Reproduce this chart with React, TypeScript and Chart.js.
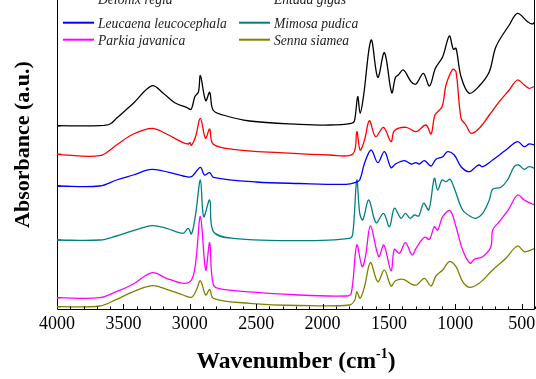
import { useEffect, useRef } from "react";
import { Chart, registerables } from "chart.js";

Chart.register(...registerables);

const seriesNames = [
  "Delonix regia",
  "Entada gigas",
  "Leucaena leucocephala",
  "Mimosa pudica",
  "Parkia javanica",
  "Senna siamea",
];
const seriesColors = ["#000000", "#ff0000", "#0000ff", "#008080", "#ff00ff", "#808000"];

const wnDelonix = [4000, 3677, 3600, 3552, 3425, 3283, 3200, 3113, 3025, 2990, 2962, 2935, 2920, 2880, 2850, 2825, 2750, 2549, 2173, 1947, 1784, 1760, 1735, 1717, 1692, 1634, 1584, 1534, 1479, 1451, 1430, 1391, 1333, 1296, 1241, 1195, 1150, 1095, 1045, 1015, 995, 957, 895, 820, 744, 694, 594, 532, 456, 419, 400];
const absDelonix = [183.3, 183.3, 185, 190.7, 205.7, 223.3, 215.7, 206.3, 201.7, 199.7, 212.3, 217, 233.3, 208.3, 216.7, 199, 194, 188, 184.7, 184, 185.7, 188, 212.3, 195.7, 212.3, 269, 231.7, 256.3, 216.3, 231.7, 234, 239, 227.3, 225, 235.7, 223, 240.7, 252.3, 273, 259.7, 260.7, 232.3, 215.7, 223, 237.3, 262.3, 284, 295.7, 287.3, 285, 287.3];

const wnEntada = [4000, 3677, 3552, 3425, 3283, 3175, 3050, 3012, 3000, 2987, 2955, 2920, 2882, 2850, 2825, 2674, 2323, 1947, 1772, 1742, 1717, 1684, 1647, 1601, 1541, 1484, 1459, 1371, 1296, 1221, 1183, 1153, 1100, 1070, 1020, 995, 957, 920, 882, 820, 744, 669, 594, 532, 481, 444, 400];
const absEntada = [154.7, 153.3, 164, 175, 180.7, 175, 166.3, 165, 166.3, 163.7, 173, 190.7, 170.7, 180, 165, 159.7, 156.3, 154, 155, 177.3, 159, 169, 188.3, 172.3, 181.7, 167.3, 178.3, 181.7, 177.3, 184, 175, 194, 202.3, 224, 239.7, 237.3, 190.7, 184, 175.7, 180.7, 194, 207.3, 219, 229, 224, 220.7, 223];

const wnLeucaena = [4000, 3677, 3552, 3425, 3283, 3050, 2987, 2920, 2890, 2850, 2822, 2500, 2173, 1822, 1757, 1720, 1684, 1634, 1584, 1534, 1484, 1451, 1383, 1333, 1296, 1271, 1233, 1183, 1146, 1095, 1058, 1008, 957, 895, 845, 820, 794, 719, 619, 532, 481, 444, 400];
const absLeucaena = [123, 123, 129, 134, 139.7, 133, 132.3, 141.7, 134, 136.3, 131.7, 127, 125.5, 124.7, 126.3, 129, 145.7, 159, 146.3, 157.3, 141.3, 145, 148.3, 145, 146.3, 145, 148.3, 143, 149.7, 152.3, 157.3, 154, 142.3, 137.3, 142.3, 144, 142.3, 149, 159, 167.3, 162.3, 165, 164];

const wnMimosa = [4000, 3677, 3552, 3425, 3283, 3175, 3050, 3012, 2987, 2955, 2920, 2895, 2850, 2822, 2674, 2173, 1797, 1772, 1742, 1720, 1697, 1652, 1597, 1541, 1496, 1459, 1409, 1376, 1341, 1308, 1276, 1238, 1200, 1158, 1133, 1100, 1070, 1040, 1008, 945, 882, 845, 794, 744, 719, 657, 607, 557, 524, 481, 444, 400];
const absMimosa = [69, 69, 73, 78.3, 83.3, 80.7, 75.7, 80.7, 75, 95.7, 129, 92.3, 109, 77.3, 70.7, 68.3, 70.7, 75.7, 129, 95.7, 89, 109, 86.3, 95.7, 82.3, 100.7, 90.7, 95.7, 90.7, 94, 93, 105.7, 99, 130.7, 119, 129, 127.3, 129.7, 120.7, 99, 92.3, 90.7, 95.7, 109, 119.7, 121.7, 129, 142.3, 144, 139.7, 142.3, 140.7];

const wnParkia = [4000, 3677, 3552, 3425, 3283, 3175, 3050, 2987, 2955, 2920, 2880, 2850, 2822, 2750, 2173, 1822, 1784, 1742, 1702, 1677, 1639, 1577, 1539, 1484, 1459, 1421, 1376, 1326, 1296, 1233, 1195, 1158, 1133, 1095, 1040, 995, 945, 889, 857, 794, 732, 719, 669, 594, 532, 481, 444, 400];
const absParkia = [11.3, 11.3, 17.3, 25, 36.3, 30.7, 25.7, 29, 47.3, 92.3, 39, 66.3, 24, 19.7, 14, 13, 15.7, 64, 42.3, 52.3, 83, 52.3, 64, 38.3, 59.7, 55.7, 66.3, 54, 60.7, 71.7, 69.7, 82.3, 79, 92.3, 98.3, 82.3, 59, 45.7, 49.7, 52.3, 62.3, 79, 87.3, 100.7, 114, 109, 106.3, 104];

const wnSenna = [4000, 3677, 3552, 3425, 3283, 3175, 3050, 2987, 2950, 2920, 2880, 2850, 2822, 2549, 2173, 1797, 1757, 1742, 1717, 1684, 1639, 1584, 1534, 1484, 1451, 1391, 1333, 1291, 1233, 1183, 1146, 1095, 1045, 995, 945, 895, 820, 719, 619, 532, 481, 444, 400];
const absSenna = [2.3, 3, 9.7, 17.3, 23.3, 19.7, 14, 11.7, 19, 28.3, 14, 19.7, 10.7, 5.7, 3.5, 4, 9, 17.3, 10.7, 22.3, 46.3, 27.3, 39, 23, 28.3, 29.7, 25, 24, 30.7, 23, 33, 39, 47.3, 42.3, 27.3, 21.7, 25.7, 39, 50.7, 63, 57.3, 58.3, 60.7];

const xTickValues = [4000, 3500, 3000, 2500, 2000, 1500, 1000, 500];
const xMinorStep = 100;
const xMin = 400;
const xMax = 4000;
const yMax = 329;

const wnSets = [wnDelonix, wnEntada, wnLeucaena, wnMimosa, wnParkia, wnSenna];
const absSets = [absDelonix, absEntada, absLeucaena, absMimosa, absParkia, absSenna];

const SERIF = "'Liberation Serif', 'Times New Roman', serif";

const decorPlugin = {
  id: "decor",
  afterDatasetsDraw(chart: any) {
    const ctx = chart.ctx;
    const { left, right, top, bottom } = chart.chartArea;
    const xs = chart.scales.x;
    const ys = chart.scales.y;
    ctx.save();
    // frame
    ctx.strokeStyle = "#000";
    ctx.lineWidth = 1;
    ctx.beginPath();
    ctx.moveTo(left + 0.5, top);
    ctx.lineTo(left + 0.5, bottom + 0.5);
    ctx.lineTo(right - 0.5, bottom + 0.5);
    ctx.lineTo(right - 0.5, top);
    ctx.stroke();
    // x ticks (inward)
    for (let v = xMin; v <= xMax; v += xMinorStep) {
      const px = Math.round(xs.getPixelForValue(v)) + 0.5;
      const major = xTickValues.includes(v);
      ctx.beginPath();
      ctx.moveTo(px, bottom);
      ctx.lineTo(px, bottom - (major ? 5 : 2.5));
      ctx.stroke();
    }
    // colored baseline ticks on the left axis
    chart.data.datasets.forEach((ds: any) => {
      const py = ys.getPixelForValue(ds.data[0].y);
      ctx.strokeStyle = ds.borderColor;
      ctx.lineWidth = 1.5;
      ctx.beginPath();
      ctx.moveTo(left, py);
      ctx.lineTo(left + 4, py);
      ctx.stroke();
    });
    // legend
    const rowY = [18.5, 42.7, 59.7];
    ctx.font = `italic 13.6px ${SERIF}`;
    ctx.textBaseline = "alphabetic";
    ctx.textAlign = "left";
    chart.data.datasets.forEach((ds: any, i: number) => {
      const col = i % 2;
      const row = Math.floor(i / 2);
      const x0 = left + 6 + col * 176;
      const y0 = top + rowY[row];
      ctx.strokeStyle = ds.borderColor;
      ctx.lineWidth = 2;
      ctx.beginPath();
      ctx.moveTo(x0, y0);
      ctx.lineTo(x0 + 31, y0);
      ctx.stroke();
      ctx.fillStyle = "#222";
      ctx.fillText(ds.label, x0 + 35, y0 + 4.8 + (row === 0 ? 1 : 0));
    });
    // x title with superscript
    ctx.fillStyle = "#000";
    ctx.textBaseline = "alphabetic";
    const main = "Wavenumber (cm";
    const sup = "-1";
    const close = ")";
    ctx.font = `bold 23.5px ${SERIF}`;
    const w1 = ctx.measureText(main).width;
    const w3 = ctx.measureText(close).width;
    ctx.font = `bold 14px ${SERIF}`;
    const w2 = ctx.measureText(sup).width;
    const total = w1 + w2 + w3;
    const cx = (left + right) / 2;
    let tx = cx - total / 2;
    const by = bottom + 59;
    ctx.font = `bold 23.5px ${SERIF}`;
    ctx.fillText(main, tx, by);
    tx += w1;
    ctx.font = `bold 14px ${SERIF}`;
    ctx.fillText(sup, tx, by - 10);
    tx += w2;
    ctx.font = `bold 23.5px ${SERIF}`;
    ctx.fillText(close, tx, by);
    // y title
    ctx.save();
    ctx.translate(23, (top + bottom) / 2);
    ctx.rotate(-Math.PI / 2);
    ctx.textAlign = "center";
    ctx.textBaseline = "middle";
    ctx.font = `bold 22px ${SERIF}`;
    ctx.fillText("Absorbance (a.u.)", 0, 0);
    ctx.restore();
    ctx.restore();
  },
};

export default function App() {
  const ref = useRef<HTMLCanvasElement>(null);
  useEffect(() => {
    if (!ref.current) return;
    const datasets = seriesNames.map((name, i) => ({
      label: name,
      data: wnSets[i].map((w, j) => ({ x: w, y: absSets[i][j] })),
      borderColor: seriesColors[i],
      backgroundColor: seriesColors[i],
      borderWidth: 1.3,
      pointRadius: 0,
      tension: 0.35,
      fill: false,
    }));
    const chart = new Chart(ref.current, {
      type: "line",
      data: { datasets },
      options: {
        animation: false,
        responsive: false,
        maintainAspectRatio: false,
        layout: { padding: { left: 0, right: 1, top: 0, bottom: 0 } },
        plugins: { legend: { display: false }, tooltip: { enabled: false } },
        scales: {
          x: {
            type: "linear",
            reverse: true,
            min: xMin,
            max: xMax,
            afterBuildTicks: (s: any) => {
              s.ticks = xTickValues.map((v) => ({ value: v }));
            },
            afterFit: (s: any) => {
              s.height = 70;
              s.paddingLeft = 0;
              s.paddingRight = 0;
            },
            grid: { display: false, drawTicks: false },
            border: { display: false },
            ticks: {
              color: "#000",
              padding: 4,
              maxRotation: 0,
              autoSkip: false,
              font: { family: SERIF, size: 18 },
              callback: (v: any) => String(v),
            },
          },
          y: {
            min: 0,
            max: yMax,
            afterFit: (s: any) => {
              s.width = 57;
              s.paddingTop = 0;
              s.paddingBottom = 0;
            },
            grid: { display: false, drawTicks: false },
            border: { display: false },
            ticks: { display: false },
          },
        },
      },
      plugins: [decorPlugin],
    });
    return () => chart.destroy();
  }, []);
  return (
    <div style={{ position: "fixed", left: 0, top: 0, width: 536, height: 379, overflow: "hidden", background: "#fff" }}>
      <canvas ref={ref} width={536} height={399} style={{ position: "absolute", left: 0, top: -20, width: 536, height: 399 }} />
    </div>
  );
}
